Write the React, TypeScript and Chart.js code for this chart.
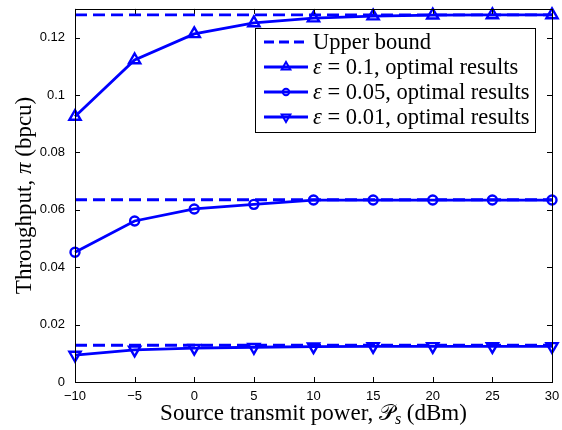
import React, { useEffect, useRef } from 'react';
import { Chart, registerables } from 'chart.js';

Chart.register(...registerables);

// ---------- data ----------
const powerDbm = [-10, -5, 0, 5, 10, 15, 20, 25, 30];
const eps01Results = [0.0925, 0.1122, 0.1213, 0.1251, 0.1268, 0.1275, 0.1278, 0.1279, 0.1279];
const eps005Results = [0.0452, 0.0561, 0.0603, 0.0619, 0.0634, 0.0634, 0.0634, 0.0634, 0.0634];
const eps001Results = [0.0094, 0.0112, 0.0118, 0.0121, 0.0123, 0.0124, 0.0124, 0.0124, 0.0124];
const upperBounds = [0.1279, 0.0635, 0.0128];
const xTicks = [-10, -5, 0, 5, 10, 15, 20, 25, 30];
const yTicks = [0, 0.02, 0.04, 0.06, 0.08, 0.1, 0.12];
const yTickLabels = ['0', '0.02', '0.04', '0.06', '0.08', '0.1', '0.12'];
const yMax = 0.13;
const legendEps = ['0.1', '0.05', '0.01'];

const BLUE = '#0000ff';
const SERIF = "'Liberation Serif', 'Times New Roman', serif";
const SANS = "'Liberation Sans', Arial, sans-serif";

type Part = { text: string; font: string; dy?: number };

function measureParts(ctx: CanvasRenderingContext2D, parts: Part[]) {
  let w = 0;
  for (const p of parts) {
    ctx.font = p.font;
    w += ctx.measureText(p.text).width;
  }
  return w;
}

function drawParts(ctx: CanvasRenderingContext2D, parts: Part[], x: number, y: number) {
  let cx = x;
  for (const p of parts) {
    ctx.font = p.font;
    ctx.fillText(p.text, cx, y + (p.dy || 0));
    cx += ctx.measureText(p.text).width;
  }
}

function drawMarker(ctx: CanvasRenderingContext2D, kind: string, x: number, y: number, r: number) {
  ctx.beginPath();
  if (kind === 'circle') {
    ctx.arc(x, y, r, 0, Math.PI * 2);
  } else {
    const s = kind === 'triangle' ? 1 : -1;
    const h = r * 1.5;
    ctx.moveTo(x, y - s * r);
    ctx.lineTo(x + r * 0.866, y - s * r + s * h);
    ctx.lineTo(x - r * 0.866, y - s * r + s * h);
    ctx.closePath();
  }
  ctx.stroke();
}

const framePlugin = {
  id: 'matlabFrame',
  afterDraw(chart: any) {
    const { ctx, chartArea: a, scales } = chart;
    ctx.save();
    // frame
    ctx.strokeStyle = '#000';
    ctx.lineWidth = 1;
    ctx.strokeRect(Math.round(a.left) + 0.5, Math.round(a.top) + 0.5, Math.round(a.right - a.left), Math.round(a.bottom - a.top));
    // inward ticks
    const tl = 5;
    ctx.beginPath();
    for (const v of xTicks) {
      const px = Math.round(scales.x.getPixelForValue(v)) + 0.5;
      ctx.moveTo(px, a.bottom);
      ctx.lineTo(px, a.bottom - tl);
      ctx.moveTo(px, a.top);
      ctx.lineTo(px, a.top + tl);
    }
    for (const v of yTicks) {
      const py = Math.round(scales.y.getPixelForValue(v)) + 0.5;
      ctx.moveTo(a.left, py);
      ctx.lineTo(a.left + tl, py);
      ctx.moveTo(a.right, py);
      ctx.lineTo(a.right - tl, py);
    }
    ctx.stroke();

    // axis titles
    ctx.fillStyle = '#000';
    ctx.textBaseline = 'alphabetic';
    const fs = 23;
    const nf = `${fs}px ${SERIF}`;
    const itf = `italic ${fs}px ${SERIF}`;
    const subf = `italic ${Math.round(fs * 0.7)}px ${SERIF}`;
    const xParts: Part[] = [
      { text: 'Source transmit power, ', font: nf },
      { text: '\u{1D4AB}', font: `${fs - 1}px 'DejaVu Serif', ${SERIF}` },
      { text: 's', font: subf, dy: 4 },
      { text: ' (dBm)', font: nf },
    ];
    const xw = measureParts(ctx, xParts);
    const xc = (a.left + a.right) / 2;
    drawParts(ctx, xParts, xc - xw / 2, 420);

    const yParts: Part[] = [
      { text: 'Throughput, ', font: nf },
      { text: 'π', font: itf },
      { text: ' (bpcu)', font: nf },
    ];
    const yw = measureParts(ctx, yParts);
    ctx.save();
    ctx.translate(31, (a.top + a.bottom) / 2);
    ctx.rotate(-Math.PI / 2);
    drawParts(ctx, yParts, -yw / 2, 0);
    ctx.restore();

    // legend
    const lx = 255, ly = 28, lw = 280, lh = 104;
    ctx.fillStyle = '#fff';
    ctx.fillRect(lx, ly, lw, lh);
    ctx.strokeStyle = '#000';
    ctx.lineWidth = 1;
    ctx.strokeRect(lx + 0.5, ly + 0.5, lw, lh);
    const rowsY = [42, 67, 92, 117];
    const lf = 22.5;
    const lnf = `${lf}px ${SERIF}`;
    const lif = `italic ${lf}px ${SERIF}`;
    const kinds = ['triangle', 'circle', 'triangleDown'];
    ctx.textBaseline = 'middle';
    for (let i = 0; i < 4; i++) {
      const y = rowsY[i];
      ctx.strokeStyle = BLUE;
      ctx.lineWidth = 2.8;
      ctx.beginPath();
      if (i === 0) ctx.setLineDash([10, 5]);
      ctx.moveTo(264, y);
      ctx.lineTo(308, y);
      ctx.stroke();
      ctx.setLineDash([]);
      if (i > 0) {
        ctx.lineWidth = 2;
        drawMarker(ctx, kinds[i - 1], 286, y, kinds[i - 1] === 'circle' ? 3.2 : 5);
      }
      ctx.fillStyle = '#000';
      if (i === 0) {
        drawParts(ctx, [{ text: 'Upper bound', font: lnf }], 313, y + 1);
      } else {
        drawParts(ctx, [
          { text: 'ε', font: lif },
          { text: ` = ${legendEps[i - 1]}, optimal results`, font: lnf },
        ], 313, y + 1);
      }
    }
    ctx.restore();
  },
};

function ubData(v: number) {
  return [
    { x: powerDbm[0], y: v },
    { x: powerDbm[powerDbm.length - 1], y: v },
  ];
}

function series(vals: number[]) {
  return powerDbm.map((x, i) => ({ x, y: vals[i] }));
}

function zeroPad(s: any) {
  s.paddingTop = 0;
  s.paddingBottom = 0;
  s.paddingLeft = 0;
  s.paddingRight = 0;
}

export default function App() {
  const ref = useRef<HTMLCanvasElement | null>(null);
  useEffect(() => {
    document.body.style.margin = '0';
    const canvas = ref.current;
    if (!canvas) return;
    const dashed = (v: number) => ({
      data: ubData(v),
      borderColor: BLUE,
      borderWidth: 2.8,
      borderDash: [12, 6],
      pointRadius: 0,
      fill: false,
      clip: false as any,
    });
    const solid = (vals: number[], style: string, rot: number, r: number) => ({
      data: series(vals),
      borderColor: BLUE,
      backgroundColor: 'rgba(0,0,0,0)',
      borderWidth: 2.8,
      pointStyle: style,
      pointRotation: rot,
      pointRadius: r,
      pointBorderWidth: 2.4,
      pointBorderColor: BLUE,
      pointBackgroundColor: 'rgba(0,0,0,0)',
      fill: false,
      clip: false as any,
    });
    const chart = new Chart(canvas, {
      type: 'line',
      data: {
        datasets: [
          dashed(upperBounds[0]),
          dashed(upperBounds[1]),
          dashed(upperBounds[2]),
          solid(eps01Results, 'triangle', 0, 6.5),
          solid(eps005Results, 'circle', 0, 4.5),
          solid(eps001Results, 'triangle', 180, 6.5),
        ] as any,
      },
      options: {
        responsive: false,
        animation: false,
        devicePixelRatio: 1,
        layout: { padding: { left: 0, top: 5, right: 10, bottom: 0 } },
        plugins: { legend: { display: false }, tooltip: { enabled: false } },
        scales: {
          x: {
            type: 'linear',
            min: -10,
            max: 30,
            grid: { display: false, drawTicks: false },
            border: { display: false },
            afterBuildTicks: (s: any) => {
              s.ticks = xTicks.map((v) => ({ value: v }));
            },
            afterFit: (s: any) => {
              s.height = 48;
              zeroPad(s);
            },
            ticks: {
              color: '#000',
              font: { family: SANS, size: 13 },
              padding: 7,
              maxRotation: 0,
              callback: (v: any) => String(v).replace('-', '\u2212'),
            },
          },
          y: {
            type: 'linear',
            min: 0,
            max: yMax,
            grid: { display: false, drawTicks: false },
            border: { display: false },
            afterBuildTicks: (s: any) => {
              s.ticks = yTicks.map((v) => ({ value: v }));
            },
            afterFit: (s: any) => {
              s.width = 75;
              zeroPad(s);
            },
            ticks: {
              color: '#000',
              font: { family: SANS, size: 13 },
              padding: 10,
              callback: (v: any) => {
                const i = yTicks.findIndex((t) => Math.abs(t - v) < 1e-9);
                return i >= 0 ? yTickLabels[i] : '';
              },
            },
          },
        },
      },
      plugins: [framePlugin],
    });
    return () => chart.destroy();
  }, []);
  return (
    <div style={{ width: 562, height: 430 }}>
      <canvas ref={ref} width={562} height={430} style={{ display: 'block' }} />
    </div>
  );
}
